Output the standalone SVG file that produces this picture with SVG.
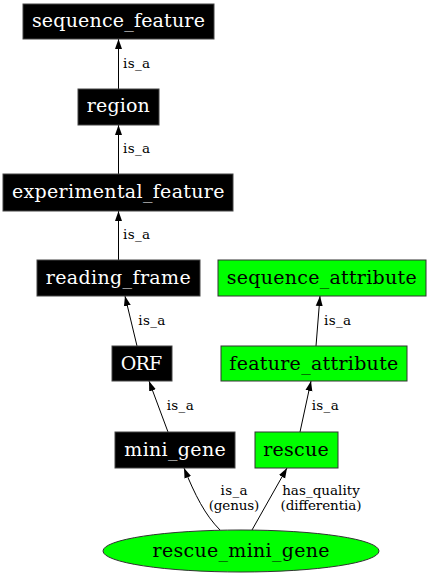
<svg xmlns="http://www.w3.org/2000/svg" width="430" height="576" viewBox="0 0 430 576">
<style>
.bk rect{fill:#000;stroke:#444;stroke-width:1}
.gr rect,.gr ellipse{fill:#00ff00;stroke:#333;stroke-width:1}
.bk text{fill:#fff}
text{font-family:"DejaVu Serif",serif;}
.n text{font-size:19px;text-anchor:middle}
.e path{fill:none;stroke:#000;stroke-width:1}
.e text{font-size:13.5px;fill:#000}
.lc{text-anchor:middle}
</style>
<defs>
<marker id="ar" viewBox="0 0 10 10" refX="10" refY="5" markerWidth="10" markerHeight="10" markerUnits="userSpaceOnUse" orient="auto">
<path d="M0,1.5 L10,5 L0,8.5 Z" fill="#000"/>
</marker>
</defs>
<rect width="430" height="576" fill="#fff"/>
<g class="e" id="edges">
<path d="M118.5,89 L118.5,39" marker-end="url(#ar)"/>
<text x="123" y="68" textLength="27" lengthAdjust="spacing">is_a</text>
<path d="M118.5,174 L118.5,125" marker-end="url(#ar)"/>
<text x="123" y="153" textLength="27" lengthAdjust="spacing">is_a</text>
<path d="M118.5,260 L118.5,211" marker-end="url(#ar)"/>
<text x="123" y="239" textLength="27" lengthAdjust="spacing">is_a</text>
<path d="M137,346 L125,296" marker-end="url(#ar)"/>
<text x="138.3" y="325" textLength="27" lengthAdjust="spacing">is_a</text>
<path d="M168,432 L149,381" marker-end="url(#ar)"/>
<text x="166.7" y="410" textLength="27" lengthAdjust="spacing">is_a</text>
<path d="M316,346 L320,296" marker-end="url(#ar)"/>
<text x="324" y="325" textLength="27" lengthAdjust="spacing">is_a</text>
<path d="M300,432 L311,381" marker-end="url(#ar)"/>
<text x="311.7" y="410" textLength="27" lengthAdjust="spacing">is_a</text>
<path d="M220,530 C205,515 195,495 184,468" marker-end="url(#ar)"/>
<text class="lc" x="234" y="495" textLength="27" lengthAdjust="spacing">is_a</text>
<text class="lc" x="234" y="510" textLength="50.7" lengthAdjust="spacing">(genus)</text>
<path d="M252,530 L287,468" marker-end="url(#ar)"/>
<text class="lc" x="321" y="495" textLength="77.7" lengthAdjust="spacing">has_quality</text>
<text class="lc" x="321" y="510" textLength="81" lengthAdjust="spacing">(differentia)</text>
</g>
<g class="n bk" id="sequence_feature"><rect x="23" y="4" width="191" height="35"/><text x="118.4" y="27" textLength="173" lengthAdjust="spacing">sequence_feature</text></g>
<g class="n bk" id="region"><rect x="78" y="89" width="81" height="36"/><text x="118.3" y="112" textLength="63" lengthAdjust="spacing">region</text></g>
<g class="n bk" id="experimental_feature"><rect x="3" y="174" width="230" height="37"/><text x="118.2" y="198" textLength="212.6" lengthAdjust="spacing">experimental_feature</text></g>
<g class="n bk" id="reading_frame"><rect x="37" y="260" width="163" height="36"/><text x="118.2" y="284" textLength="145" lengthAdjust="spacing">reading_frame</text></g>
<g class="n bk" id="ORF"><rect x="112" y="346" width="60" height="35"/><text x="141.5" y="370" textLength="41.6" lengthAdjust="spacing">ORF</text></g>
<g class="n bk" id="mini_gene"><rect x="115" y="432" width="120" height="36"/><text x="175" y="456" textLength="101.4" lengthAdjust="spacing">mini_gene</text></g>
<g class="n gr" id="sequence_attribute"><rect x="218" y="260" width="208" height="36"/><text x="321.7" y="284" textLength="190" lengthAdjust="spacing">sequence_attribute</text></g>
<g class="n gr" id="feature_attribute"><rect x="221" y="346" width="186" height="35"/><text x="313.8" y="370" textLength="169" lengthAdjust="spacing">feature_attribute</text></g>
<g class="n gr" id="rescue"><rect x="255" y="432" width="83" height="36"/><text x="296" y="456" textLength="65.4" lengthAdjust="spacing">rescue</text></g>
<g class="n gr" id="rescue_mini_gene"><ellipse cx="241" cy="551" rx="138" ry="21"/><text x="241" y="557" textLength="177" lengthAdjust="spacing">rescue_mini_gene</text></g>
</svg>
